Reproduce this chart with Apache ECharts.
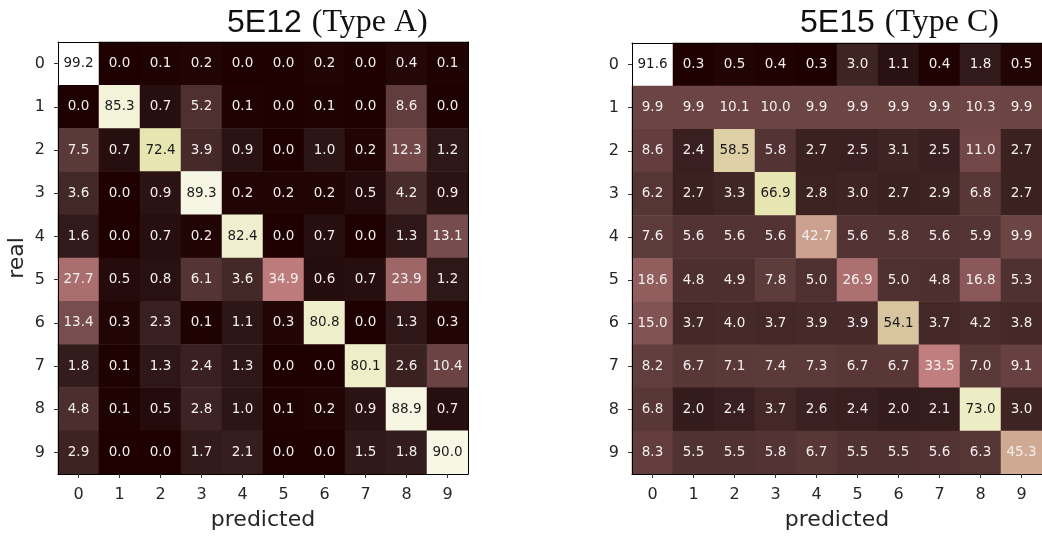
<!DOCTYPE html>
<html><head><meta charset="utf-8">
<script src="https://cdn.jsdelivr.net/npm/echarts@6/dist/echarts.min.js"></script>
<style>html,body{margin:0;padding:0;background:#fff}#c{width:1042px;height:536px}</style>
</head><body><div id="c"></div>
<script>
const classes = ['0','1','2','3','4','5','6','7','8','9'];
const titleA = ['5E12', '(Type A)'];
const titleC = ['5E15', '(Type C)'];
const xLabel = 'predicted';
const yLabel = 'real';
const matrixA = [
  [99.2,0.0,0.1,0.2,0.0,0.0,0.2,0.0,0.4,0.1],
  [0.0,85.3,0.7,5.2,0.1,0.0,0.1,0.0,8.6,0.0],
  [7.5,0.7,72.4,3.9,0.9,0.0,1.0,0.2,12.3,1.2],
  [3.6,0.0,0.9,89.3,0.2,0.2,0.2,0.5,4.2,0.9],
  [1.6,0.0,0.7,0.2,82.4,0.0,0.7,0.0,1.3,13.1],
  [27.7,0.5,0.8,6.1,3.6,34.9,0.6,0.7,23.9,1.2],
  [13.4,0.3,2.3,0.1,1.1,0.3,80.8,0.0,1.3,0.3],
  [1.8,0.1,1.3,2.4,1.3,0.0,0.0,80.1,2.6,10.4],
  [4.8,0.1,0.5,2.8,1.0,0.1,0.2,0.9,88.9,0.7],
  [2.9,0.0,0.0,1.7,2.1,0.0,0.0,1.5,1.8,90.0]
];
const matrixC = [
  [91.6,0.3,0.5,0.4,0.3,3.0,1.1,0.4,1.8,0.5],
  [9.9,9.9,10.1,10.0,9.9,9.9,9.9,9.9,10.3,9.9],
  [8.6,2.4,58.5,5.8,2.7,2.5,3.1,2.5,11.0,2.7],
  [6.2,2.7,3.3,66.9,2.8,3.0,2.7,2.9,6.8,2.7],
  [7.6,5.6,5.6,5.6,42.7,5.6,5.8,5.6,5.9,9.9],
  [18.6,4.8,4.9,7.8,5.0,26.9,5.0,4.8,16.8,5.3],
  [15.0,3.7,4.0,3.7,3.9,3.9,54.1,3.7,4.2,3.8],
  [8.2,6.7,7.1,7.4,7.3,6.7,6.7,33.5,7.0,9.1],
  [6.8,2.0,2.4,3.7,2.6,2.4,2.0,2.1,73.0,3.0],
  [8.3,5.5,5.5,5.8,6.7,5.5,5.5,5.6,6.3,45.3]
];

// matplotlib "pink" colormap approximation: sqrt((2*gray + hot)/3)
function pink(t){
  const hr = Math.min(1, 0.0416 + t/0.365*(1-0.0416));
  const hg = Math.max(0, Math.min(1, (t-0.365)/(0.746-0.365)));
  const hb = Math.max(0, Math.min(1, (t-0.746)/(1-0.746)));
  const f = h => Math.round(255*Math.sqrt((2*t + h)/3));
  return 'rgb(' + f(hr) + ',' + f(hg) + ',' + f(hb) + ')';
}
const pinkStops = [];
for (let i = 0; i <= 100; i++) pinkStops.push(pink(i/100));

function flat(m){
  let mn = Infinity, mx = -Infinity;
  m.forEach(r => r.forEach(v => { mn = Math.min(mn, v); mx = Math.max(mx, v); }));
  const th = mx / 2;
  const out = [];
  m.forEach((r, yi) => r.forEach((v, xi) => out.push({
    value: [xi, yi, v],
    label: { color: v > th ? '#1a1a1a' : '#f3eeee' }
  })));
  return { data: out, min: mn, max: mx };
}
const A = flat(matrixA), C = flat(matrixC);

const grids = [
  { left: 58, top: 42, width: 410, height: 432 },
  { left: 632, top: 43, width: 410, height: 433 }
];
const tickFont = { fontFamily: 'DejaVu Sans', fontSize: 16, color: '#262626' };
const frameLine = { show: true, lineStyle: { color: '#000', width: 1 } };

function xAx(g, name){
  return {
    type: 'category', gridIndex: g, data: classes, position: 'bottom', z: 10,
    axisLine: frameLine,
    axisTick: { show: true, alignWithLabel: true, length: 4, lineStyle: { color: '#333' } },
    axisLabel: Object.assign({ margin: 13 }, tickFont),
    splitLine: { show: false },
    name: name, nameLocation: 'middle', nameGap: 35,
    nameTextStyle: { fontFamily: 'DejaVu Sans', fontSize: 22, color: '#262626' }
  };
}
function xTop(g){
  return { type: 'category', gridIndex: g, data: classes, position: 'top', z: 10,
    axisLine: frameLine,
    axisTick: { show: false }, axisLabel: { show: false }, splitLine: { show: false } };
}
function yAx(g, name){
  return {
    type: 'category', gridIndex: g, data: classes, inverse: true, position: 'left', z: 10,
    axisLine: frameLine,
    axisTick: { show: true, alignWithLabel: true, length: 4, lineStyle: { color: '#333' } },
    axisLabel: Object.assign({ margin: 13 }, tickFont),
    splitLine: { show: false },
    name: name, nameLocation: 'middle', nameGap: 30, nameRotate: 90,
    nameTextStyle: { fontFamily: 'DejaVu Sans', fontSize: 22, color: '#262626' }
  };
}
function yRight(g){
  return { type: 'category', gridIndex: g, data: classes, inverse: true, position: 'right', z: 10,
    axisLine: frameLine,
    axisTick: { show: false }, axisLabel: { show: false }, splitLine: { show: false } };
}

function series(idx, d){
  return {
    type: 'heatmap', xAxisIndex: idx, yAxisIndex: idx, data: d.data,
    label: { show: true, fontFamily: 'DejaVu Sans', fontSize: 13.5,
      formatter: p => p.value[2].toFixed(1) },
    itemStyle: { borderWidth: 0 },
    emphasis: { disabled: true }
  };
}

function titleRich(t, left){
  return {
    text: '{a|' + t[0] + '} {b|' + t[1] + '}', left: left, top: 2,
    textStyle: { fontWeight: 'normal', rich: {
      a: { fontFamily: 'Liberation Sans', fontSize: 32, fontWeight: 'normal', color: '#111' },
      b: { fontFamily: 'Liberation Serif', fontSize: 32, fontWeight: 'normal', color: '#111', padding: [0, 0, 0, 5] }
    } }
  };
}

const chart = echarts.init(document.getElementById('c'), null, { renderer: 'canvas' });
chart.setOption({
  animation: false,
  backgroundColor: '#fff',
  title: [ titleRich(titleA, 222), titleRich(titleC, 795) ],
  grid: grids,
  xAxis: [ xAx(0, xLabel), xAx(1, xLabel), xTop(0), xTop(1) ],
  yAxis: [ yAx(0, yLabel), yAx(1, ''), yRight(0), yRight(1) ],
  visualMap: [
    { type: 'continuous', show: false, seriesIndex: 0, dimension: 2, min: A.min, max: A.max, inRange: { color: pinkStops } },
    { type: 'continuous', show: false, seriesIndex: 1, dimension: 2, min: C.min, max: C.max, inRange: { color: pinkStops } }
  ],
  series: [ series(0, A), series(1, C) ]
});
</script>
</body></html>
